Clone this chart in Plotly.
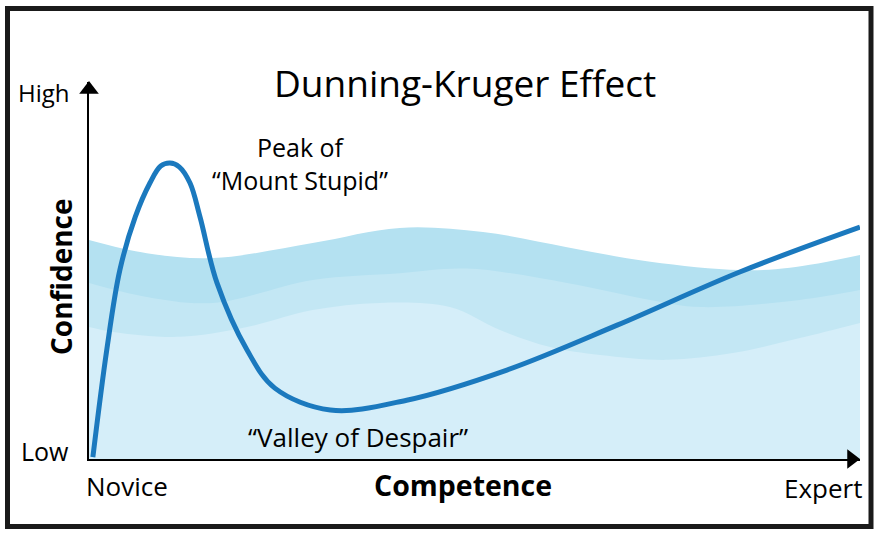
import plotly.graph_objects as go

# ---- data (competence 0..100, confidence 0..100) ----
curve_x = [0.5, 2.3, 4.0, 6.0, 7.9, 9.3, 10.5, 11.7, 13.1, 14.4, 16.6, 20.5, 24.1, 31.3, 41.2, 54.2, 68.5, 84.4, 100]
curve_y = [0.5, 28.9, 50.1, 64.2, 73.2, 77.7, 78.5, 77.5, 73.2, 64.2, 46.7, 28.9, 18.8, 13.0, 15.6, 23.6, 35.5, 49.6, 61.5]

band_top_x = [0, 7.5, 16.1, 29.0, 40.3, 51.1, 62.0, 72.8, 84.4, 90.9, 100]
band_top_y = [58.1, 54.6, 53.3, 57.3, 61.3, 60.2, 56.2, 52.3, 50.1, 50.7, 54.1]

band_mid_x = [0, 7.5, 16.1, 29.0, 40.3, 49.0, 62.0, 72.8, 79.3, 92.2, 100]
band_mid_y = [46.7, 43.0, 41.4, 47.5, 49.3, 50.5, 46.7, 42.2, 40.3, 42.2, 44.8]

band_low_x = [0, 3.1, 11.8, 20.5, 29.0, 37.7, 46.8, 53.3, 59.8, 66.3, 75.0, 83.5, 92.2, 100]
band_low_y = [35.0, 33.7, 32.4, 35.0, 39.5, 41.4, 40.3, 34.2, 29.7, 27.6, 26.3, 28.1, 32.1, 36.1]

title = "Dunning-Kruger Effect"
x_title, y_title = "Competence", "Confidence"
x_low, x_high = "Novice", "Expert"
y_low, y_high = "Low", "High"
peak_label = "Peak of<br>“Mount Stupid”"
valley_label = "“Valley of Despair”"

# ---- layout geometry ----
W, H = 879, 535
ML, MR, MT, MB = 89, 19, 82, 76
PW, PH = W - ML - MR, H - MT - MB
FONT = "'Open Sans', Lato, sans-serif"

def px(xp):
    return (xp - ML) / PW

def py(yp):
    return (H - MB - yp) / PH

fig = go.Figure()

for bx, by, col in [(band_top_x, band_top_y, "#b4e1f1"),
                    (band_mid_x, band_mid_y, "#c3e7f4"),
                    (band_low_x, band_low_y, "#d5eef9")]:
    fig.add_trace(go.Scatter(x=bx, y=by, mode="lines", fill="tozeroy",
                             fillcolor=col, line=dict(width=0, shape="spline", color=col),
                             hoverinfo="skip", showlegend=False))

fig.add_trace(go.Scatter(x=curve_x, y=curve_y, mode="lines",
                         line=dict(color="#1b79be", width=5, shape="spline", smoothing=1.0),
                         showlegend=False, cliponaxis=False))

# arrowheads
fig.add_trace(go.Scatter(x=[0], y=[98.0], mode="markers",
                         marker=dict(symbol="triangle-up", size=17, color="black"),
                         showlegend=False, cliponaxis=False, hoverinfo="skip"))
fig.add_trace(go.Scatter(x=[98.9], y=[0], mode="markers",
                         marker=dict(symbol="triangle-right", size=17, color="black"),
                         showlegend=False, cliponaxis=False, hoverinfo="skip"))

ann = []
def txt(t, xp, yp, size, bold=False, angle=0):
    ann.append(dict(text=f"<b>{t}</b>" if bold else t, x=px(xp), y=py(yp),
                    xref="paper", yref="paper", showarrow=False,
                    xanchor="center", yanchor="middle", textangle=angle,
                    font=dict(family=FONT, size=size, color="black")))

txt(title, 465, 82, 37)
txt(peak_label, 300, 163, 25)
txt(valley_label, 358, 437, 26)
txt(y_high, 44, 92, 24)
txt(y_low, 45, 451, 25)
txt(x_low, 127, 486, 26)
txt(x_high, 823, 488, 26)
txt(x_title, 463, 485, 28.5, bold=True)
txt(y_title, 61, 277, 28, bold=True, angle=-90)

fig.update_layout(
    width=W, height=H,
    margin=dict(l=ML, r=MR, t=MT, b=MB),
    paper_bgcolor="white", plot_bgcolor="white",
    xaxis=dict(range=[0, 100], showgrid=False, zeroline=False, showticklabels=False,
               ticks="", showline=True, linecolor="black", linewidth=1.5),
    yaxis=dict(range=[0, 100], showgrid=False, zeroline=False, showticklabels=False,
               ticks="", showline=True, linecolor="black", linewidth=1.5),
    annotations=ann,
    shapes=[dict(type="rect", xref="paper", yref="paper",
                 x0=px(7.5), x1=px(871), y0=py(526.5), y1=py(8.5),
                 line=dict(color="#1a1a1a", width=5), fillcolor="rgba(0,0,0,0)",
                 layer="above")],
)

fig.write_html("out.html", config={"displayModeBar": False},
               post_script="document.body.style.margin='0';")
